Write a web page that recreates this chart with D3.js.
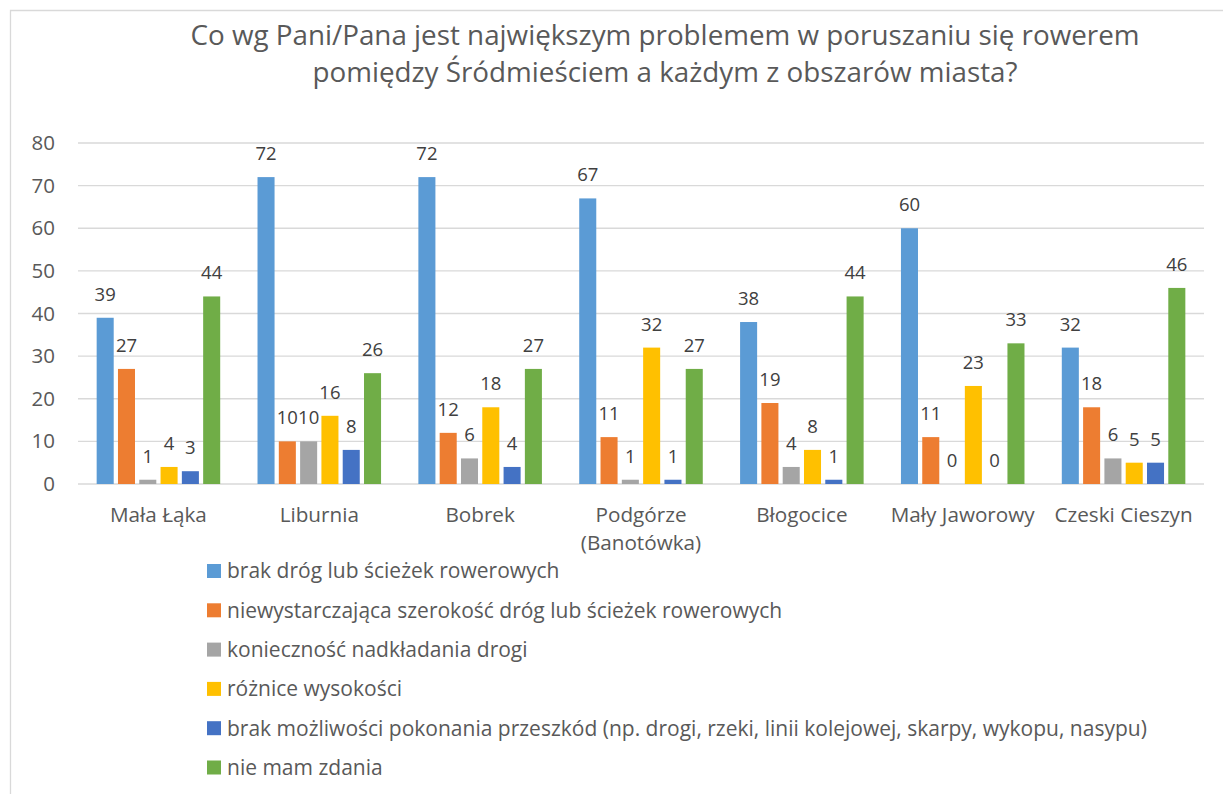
<!DOCTYPE html>
<html>
<head>
<meta charset="utf-8">
<script src="https://cdn.jsdelivr.net/npm/d3@7"></script>
<style>
    body { margin: 0; background: #fff; }
    svg { display: block; font-family: "Open Sans", Lato, sans-serif; }
</style>
</head>
<body>
<svg id="chart" width="1223" height="794"></svg>
<script>
/**
 * Data.
 */
const titleLines = [
    'Co wg Pani/Pana jest największym problemem w poruszaniu się rowerem',
    'pomiędzy Śródmieściem a każdym z obszarów miasta?'
];
const categories = [ 'Mała Łąka', 'Liburnia', 'Bobrek', 'Podgórze (Banotówka)', 'Błogocice', 'Mały Jaworowy', 'Czeski Cieszyn' ];
const categoryLines = [ ['Mała Łąka'], ['Liburnia'], ['Bobrek'], ['Podgórze', '(Banotówka)'], ['Błogocice'], ['Mały Jaworowy'], ['Czeski Cieszyn'] ];
const seriesNames = [
    'brak dróg lub ścieżek rowerowych',
    'niewystarczająca szerokość dróg lub ścieżek rowerowych',
    'konieczność nadkładania drogi',
    'różnice wysokości',
    'brak możliwości pokonania przeszkód (np. drogi, rzeki, linii kolejowej, skarpy, wykopu, nasypu)',
    'nie mam zdania'
];
const brakDrog = [ 39, 72, 72, 67, 38, 60, 32 ];
const szerokosc = [ 27, 10, 12, 11, 19, 11, 18 ];
const nadkladanie = [ 1, 10, 6, 1, 4, 0, 6 ];
const wysokosc = [ 4, 16, 18, 32, 8, 23, 5 ];
const przeszkody = [ 3, 8, 4, 1, 1, 0, 5 ];
const nieMamZdania = [ 44, 26, 27, 27, 44, 33, 46 ];
const seriesValues = [ brakDrog, szerokosc, nadkladanie, wysokosc, przeszkody, nieMamZdania ];
const yTicks = [ 0, 10, 20, 30, 40, 50, 60, 70, 80 ];

/**
 * Visual configs.
 */
const colors = [ '#5B9BD5', '#ED7D31', '#A5A5A5', '#FFC000', '#4472C4', '#70AD47' ];
const plot = { left: 78, right: 1204, top: 143, bottom: 484 };
const textColor = '#595959';

const svg = d3.select('#chart');

// Chart area border (only left and top edges fall inside the picture)
svg.append('path')
    .attr('d', 'M10.5,794 V10.5 H1223')
    .attr('fill', 'none')
    .attr('stroke', '#d9d9d9')
    .attr('stroke-width', 1.3);

// Title
svg.append('text')
    .attr('text-anchor', 'middle')
    .attr('fill', textColor)
    .style('font-size', '27.8px')
    .selectAll('tspan').data(titleLines)
    .enter().append('tspan')
        .attr('x', 665)
        .attr('y', (d, i) => 45 + i * 37)
        .text(d => d);

/**
 * Scales.
 */
const x0 = d3.scaleBand().domain(categories).range([ plot.left, plot.right ])
    .paddingInner(0.232).paddingOuter(0.116);
const x1 = d3.scaleBand().domain(d3.range(seriesNames.length)).range([ 0, x0.bandwidth() ])
    .paddingInner(0.2);
const y = d3.scaleLinear().domain([ 0, 80 ]).range([ plot.bottom, plot.top ]);

// Gridlines
svg.append('g').attr('class', 'grid')
    .selectAll('line').data(yTicks)
    .enter().append('line')
        .attr('x1', plot.left).attr('x2', plot.right)
        .attr('y1', d => y(d)).attr('y2', d => y(d))
        .attr('stroke', '#d9d9d9')
        .attr('stroke-width', 1.3);

// Y axis labels
const yAxis = d3.axisLeft(y).tickValues(yTicks).tickSize(0).tickPadding(0);
svg.append('g')
    .attr('transform', 'translate(55,0)')
    .call(yAxis)
    .call(g => g.select('.domain').remove())
    .call(g => g.selectAll('text')
        .attr('fill', textColor)
        .style('font-size', '20.5px')
        .style('font-family', '"Open Sans", Lato, sans-serif'));

// Bars
const groups = svg.append('g').attr('class', 'items')
    .selectAll('g.group').data(categories)
    .enter().append('g')
        .attr('class', 'group')
        .attr('transform', d => 'translate(' + x0(d) + ',0)');

groups.each(function(cat, ci) {
    const g = d3.select(this);
    const vals = seriesValues.map((s, si) => ({ si: si, v: s[ci] }));

    g.selectAll('rect').data(vals)
        .enter().append('rect')
            .attr('x', d => x1(d.si))
            .attr('width', x1.bandwidth())
            .attr('y', d => y(d.v))
            .attr('height', d => y(0) - y(d.v))
            .attr('fill', d => colors[d.si]);

    g.selectAll('text').data(vals)
        .enter().append('text')
            .attr('x', d => x1(d.si) + x1.bandwidth() / 2)
            .attr('y', d => y(d.v) - 17)
            .attr('text-anchor', 'middle')
            .attr('fill', '#404040')
            .style('font-size', '18.5px')
            .text(d => d.v);
});

// Category labels
svg.append('g').attr('class', 'x-labels')
    .selectAll('text').data(categories)
    .enter().append('text')
        .attr('text-anchor', 'middle')
        .attr('fill', textColor)
        .style('font-size', '20.7px')
        .each(function(d, i) {
            d3.select(this).selectAll('tspan').data(categoryLines[i])
                .enter().append('tspan')
                    .attr('x', x0(d) + x0.bandwidth() / 2)
                    .attr('y', (t, j) => 522 + j * 28)
                    .text(t => t);
        });

// Legend
const legend = svg.append('g').attr('class', 'legends')
    .selectAll('g.legend').data(seriesNames)
    .enter().append('g')
        .attr('class', 'legend')
        .attr('transform', (d, i) => 'translate(207,' + (571 + i * 39.3) + ')');
legend.append('rect')
    .attr('x', 0).attr('y', -7)
    .attr('width', 14).attr('height', 14)
    .attr('fill', (d, i) => colors[i]);
legend.append('text')
    .attr('x', 20)
    .attr('dy', '0.35em')
    .attr('fill', textColor)
    .style('font-size', '21px')
    .text(d => d);
</script>
</body>
</html>
